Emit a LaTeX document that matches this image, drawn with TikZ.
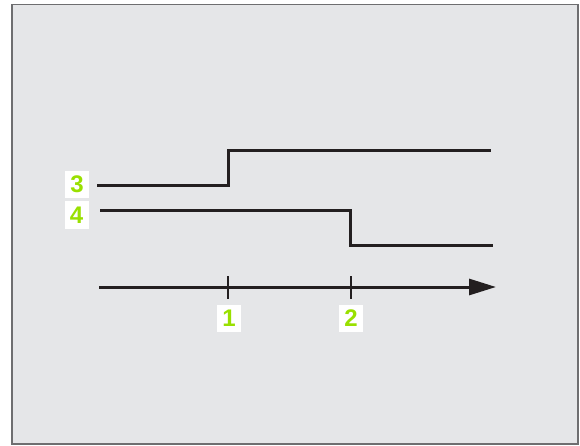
\documentclass[tikz,border=0pt]{standalone}
\usepackage{fontspec}
\setmainfont{Liberation Sans}
\usetikzlibrary{arrows.meta}
\definecolor{bg}{HTML}{E5E6E8}
\definecolor{frame}{HTML}{6E6E70}
\definecolor{lbl}{HTML}{99E000}
\definecolor{ink}{HTML}{231F20}
\begin{document}
\begin{tikzpicture}[x=1pt,y=-1pt,
  sig/.style={draw=ink,line width=3pt},
  tick/.style={draw=ink,line width=2pt},
  numlbl/.style={fill=white,text=lbl,font=\fontsize{24}{24}\selectfont\bfseries,minimum width=24pt,minimum height=27pt,inner sep=0pt,anchor=center}]
\useasboundingbox (0,0) rectangle (580,446);
\path[fill=bg,draw=frame,line width=1.5pt] (12,4.5) rectangle (578,444);
% labels
\node[numlbl] (l3) at (77,184.5) {3};
\node[numlbl] (l4) at (76.5,215) {4};
\node[numlbl] (l1) at (229,318) {1};
\node[numlbl] (l2) at (351,318) {2};
% signals
\coordinate (s3a) at (97,186);
\coordinate (s3b) at (228,186);
\coordinate (s3c) at (228,151);
\coordinate (s3d) at (491,151);
\draw[sig] (s3a) -- (s3b) -- (s3c) -- (s3d);
\coordinate (s4a) at (100,211);
\coordinate (s4b) at (350,211);
\coordinate (s4c) at (350,245);
\coordinate (s4d) at (493,245);
\draw[sig] (s4a) -- (s4b) -- (s4c) -- (s4d);
% axis
\coordinate (ax0) at (99,287);
\coordinate (ax1) at (496,287);
\draw[sig,-{Triangle[length=27pt,width=16pt]}] (ax0) -- (ax1);
\coordinate (t1a) at (228,276);
\coordinate (t1b) at (228,299);
\coordinate (t2a) at (351,276);
\coordinate (t2b) at (351,299);
\draw[tick] (t1a) -- (t1b);
\draw[tick] (t2a) -- (t2b);
\end{tikzpicture}
\end{document}
